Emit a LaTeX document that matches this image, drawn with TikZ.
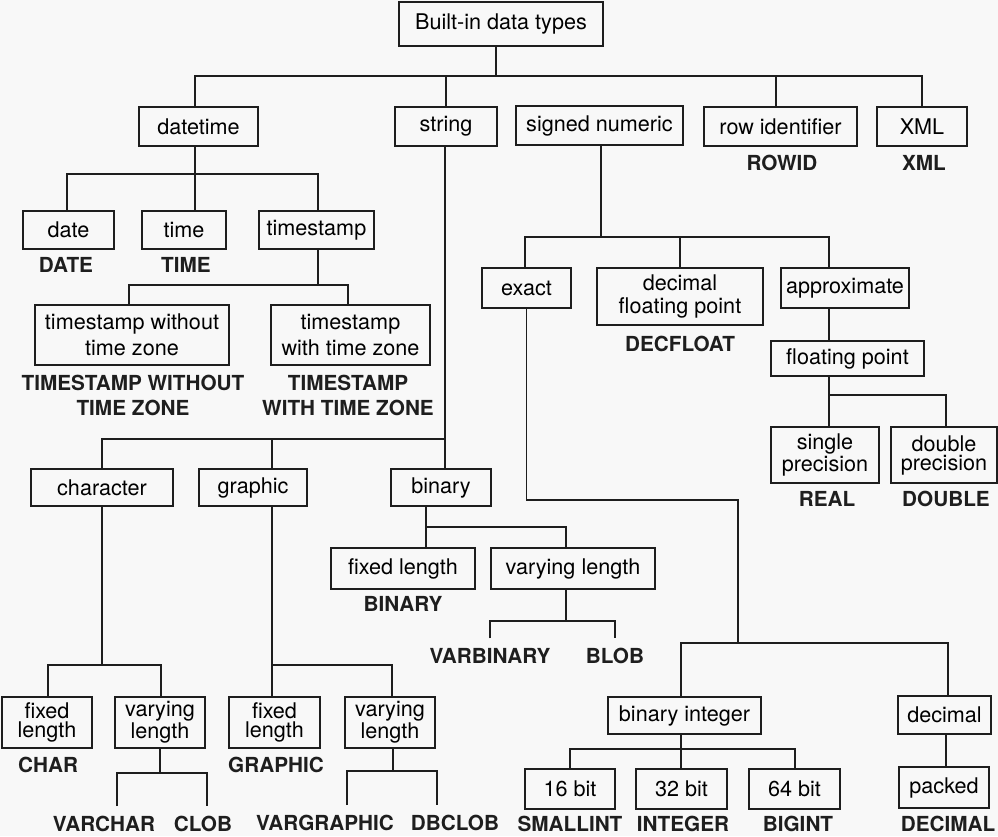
\documentclass[tikz,border=0pt]{standalone}
\usepackage{fontspec}
\setmainfont{TeX Gyre Heros}
\usepackage{tikz}
\usetikzlibrary{calc}
\definecolor{ink}{HTML}{1E1E1E}
\definecolor{paper}{HTML}{F8F8F8}
\tikzset{
  typebox/.style={
    draw=ink,line width=.9pt,align=center,inner sep=0pt,
    font=\fontsize{12.3}{14.6}\selectfont
  },
  lead/.style={font=\fontsize{12.3}{#1}\selectfont},
  wh/.style 2 args={minimum width=#1*0.02cm,minimum height=#2*0.02cm},
  sqlname/.style={
    align=center,inner sep=0pt,text=ink,
    font=\fontsize{11.8}{14.2}\selectfont\bfseries
  },
  leafname/.style={sqlname,outer ysep=0.2cm},
  link/.style={draw=ink,line width=.9pt}
}

\begin{document}
\begin{tikzpicture}[x=0.02cm,y=-0.02cm]
\fill[paper] (0,0) rectangle (998,836);
\useasboundingbox (0,0) rectangle (998,836);

% top level
\node[typebox,wh={204}{44}] (root) at (501,24) {Built-in data types};
\node[typebox,wh={119}{39}] (datetime) at (198.5,126.5) {datetime};
\node[typebox,wh={102}{39}] (string) at (446,126.5) {string};
\node[typebox,wh={167}{39}] (signum) at (599.5,125.5) {signed numeric};
\node[typebox,wh={153}{39}] (rowid) at (780.5,126.5) {row identifier};
\node[typebox,wh={90}{39}] (xml) at (922,126.5) {XML};
\node[sqlname] (rowidname) at (782,163) {ROWID};
\node[sqlname] (xmlname) at (924,163) {XML};

% datetime branch
\node[typebox,wh={91}{38}] (date) at (68.5,230) {date};
\node[typebox,wh={84}{38}] (time) at (184,230) {time};
\node[typebox,wh={115}{38}] (tstamp) at (316.5,230) {timestamp};
\node[sqlname] (datename) at (66,265) {DATE};
\node[sqlname] (timename) at (186,265) {TIME};
\node[typebox,wh={194}{60}] (tswo) at (132,335) {timestamp without\\time zone};
\node[typebox,wh={159}{60}] (tsw) at (350.5,335) {timestamp\\with time zone};
\node[sqlname] (tswoname) at (133,395) {TIMESTAMP WITHOUT\\TIME ZONE};
\node[sqlname] (tswname) at (348,395) {TIMESTAMP\\WITH TIME ZONE};

% string branch
\node[typebox,wh={142}{37}] (character) at (102,487.5) {character};
\node[typebox,wh={108}{37}] (graphic) at (253,487.5) {graphic};
\node[typebox,wh={100}{37}] (binary) at (441,487.5) {binary};
\node[typebox,wh={144}{41}] (binfix) at (403,568.5) {fixed length};
\node[typebox,wh={164}{41}] (binvar) at (573,568.5) {varying length};
\node[sqlname] (binfixname) at (403,604) {BINARY};
\node[leafname] (varbin) at (490,656) {VARBINARY};
\node[leafname] (blob) at (615,656) {BLOB};
\node[typebox,lead=11,wh={90}{51}] (chfix) at (47,722.5) {fixed\\length};
\node[typebox,lead=10.8,wh={90}{51}] (chvar) at (160,722.5) {varying\\length};
\node[typebox,lead=11,wh={91}{51}] (grfix) at (274.5,722.5) {fixed\\length};
\node[typebox,lead=10.8,wh={90}{51}] (grvar) at (390,722.5) {varying\\length};
\node[sqlname] (charname) at (48,765) {CHAR};
\node[sqlname] (grfixname) at (276,765) {GRAPHIC};
\node[leafname] (varchar) at (104,824) {VARCHAR};
\node[leafname] (clob) at (203,824) {CLOB};
\node[leafname] (vargr) at (325,823) {VARGRAPHIC};
\node[leafname] (dbclob) at (455,823) {DBCLOB};

% numeric branch
\node[typebox,wh={89}{40}] (exact) at (526.5,288) {exact};
\node[typebox,lead=13,wh={166}{57}] (decfp) at (680,296.5) {decimal\\floating point};
\node[typebox,wh={128}{40}] (approx) at (845,288) {approximate};
\node[sqlname] (decfpname) at (680,344) {DECFLOAT};
\node[typebox,wh={153}{35}] (flpt) at (847.5,358.5) {floating point};
\node[typebox,lead=10.8,wh={108}{56}] (single) at (825,455) {single\\precision};
\node[typebox,lead=10.8,wh={106}{56}] (double) at (944,455) {double\\precision};
\node[sqlname] (realname) at (827,499) {REAL};
\node[sqlname] (doublename) at (946,499) {DOUBLE};
\node[typebox,wh={153}{37}] (binint) at (684.5,715.5) {binary integer};
\node[typebox,wh={93}{38}] (decimal) at (944.5,715) {decimal};
\node[typebox,wh={90}{40}] (b16) at (570,789) {16 bit};
\node[typebox,wh={91}{40}] (b32) at (681.5,789) {32 bit};
\node[typebox,wh={91}{40}] (b64) at (794.5,789) {64 bit};
\node[typebox,wh={90}{41}] (packed) at (944,787.5) {packed};
\node[sqlname] (smallint) at (570,824) {SMALLINT};
\node[sqlname] (integer) at (683,824) {INTEGER};
\node[sqlname] (bigint) at (798,824) {BIGINT};
\node[sqlname] (decname) at (948,824) {DECIMAL};

% junctions
\coordinate (j0) at (496,76);
\coordinate (j1) at (195,174);
\coordinate (j2) at (318,285);
\coordinate (j3) at (445,439);
\coordinate (j4) at (102,665);
\coordinate (j5) at (272,665);
\coordinate (j6) at (160,773);
\coordinate (j7) at (393,771);
\coordinate (j8) at (426,527);
\coordinate (j9) at (566,621);
\coordinate (j10) at (601,237);
\coordinate (j11) at (829,395);
\coordinate (bend) at (738,500);
\coordinate (j12) at (738,643);
\coordinate (j13) at (681,749);

% connectors
\draw[link] (root.south -| j0) -- (j0);
\draw[link] (datetime.north -| j1) |- (j0) -| (xml.north);
\draw[link] (string.north) -- (string.north |- j0);
\draw[link] (signum.north -| j10) -- (signum.north -| j10 |- j0);
\draw[link] (rowid.north -| 776,0) -- (776,76);

\draw[link] (datetime.south -| j1) -- (j1);
\draw[link] (date.north -| 67,0) |- (j1) -| (tstamp.north -| j2);
\draw[link] (time.north -| j1) -- (j1);
\draw[link] (tstamp.south -| j2) -- (j2);
\draw[link] (tswo.north -| 129,0) |- (j2) -| (tsw.north -| 348,0);

\draw[link] (string.south -| j3) -- (binary.north -| j3);
\draw[link] (character.north) |- (j3);
\draw[link] (graphic.north -| j5) -- (j5 |- j3);
\draw[link] (character.south) -- (j4);
\draw[link] (chfix.north -| 48,0) |- (j4) -| (chvar.north -| 161,0);
\draw[link] (graphic.south -| j5) -- (grfix.north -| j5);
\draw[link] (j5) -| (grvar.north -| 392,0);
\draw[link] (chvar.south) -- (j6);
\draw[link] (varchar.north -| 117,0) |- (j6) -| (clob.north -| 207,0);
\draw[link] (grvar.south -| j7) -- (j7);
\draw[link] (vargr.north -| 347,0) |- (j7) -| (dbclob.north -| 437,0);
\draw[link] (binary.south -| j8) -- (binfix.north -| j8);
\draw[link] (j8) -| (binvar.north -| j9);
\draw[link] (binvar.south -| j9) -- (j9);
\draw[link] (varbin.north) |- (j9) -| (blob.north);

\draw[link] (signum.south -| j10) -- (j10);
\draw[link] (exact.north -| 525,0) |- (j10) -| (approx.north -| j11);
\draw[link] (decfp.north) -- (decfp.north |- j10);
\draw[link] (approx.south -| j11) -- (flpt.north -| j11);
\draw[link] (flpt.south -| j11) -- (single.north -| j11);
\draw[link] (j11) -| (double.north -| 946,0);
\draw[link] (exact.south) |- (bend) -- (j12);
\draw[link] (binint.north -| j13) |- (j12) -| (decimal.north -| 948,0);
\draw[link] (binint.south -| j13) -- (b32.north -| j13);
\draw[link] (b16.north) |- (j13) -| (b64.north -| 795,0);
\draw[link] (decimal.south -| 946,0) -- (packed.north -| 946,0);
\end{tikzpicture}
\end{document}
